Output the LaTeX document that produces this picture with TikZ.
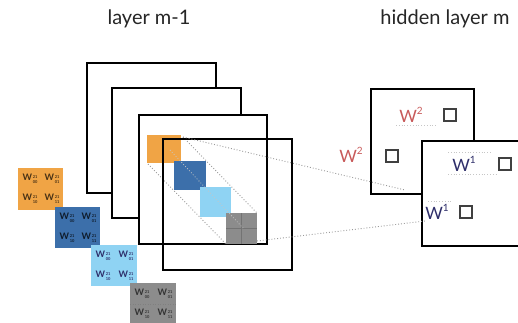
\documentclass[tikz,border=0pt]{standalone}
\usepackage{fontspec}
\setmainfont{Lato}
\newcommand\wlab[2]{W\kern0.8pt\raisebox{-3.4pt}{\fontsize{4}{7}\selectfont\shortstack[l]{#1\\#2}}}
\newcommand\wsup[1]{W\raisebox{0.85ex}{\fontsize{10}{10}\selectfont #1}}
\definecolor{corange}{HTML}{F0A445}
\definecolor{cdblue}{HTML}{3C6FAA}
\definecolor{clblue}{HTML}{8FD3F3}
\definecolor{cgray}{HTML}{8C8C8C}
\definecolor{cred}{HTML}{C85A5A}
\definecolor{cnavy}{HTML}{2E2E6A}
\tikzset{
  fmap/.style={draw=black, line width=2.7pt, fill=white},
  fmapopen/.style={draw=black, line width=2.7pt},
  conn/.style={draw=gray!80, dotted, line width=0.9pt},
  faint/.style={draw=gray!45, dotted, line width=0.8pt},
  title/.style={font=\fontsize{20}{20}\selectfont, text=black!85},
  wbig/.style={font=\fontsize{17}{17}\selectfont, inner sep=0pt},
  unit/.style={draw=black!75, line width=1.2pt, minimum size=12pt, inner sep=0pt},
  wsmall/.style={font=\fontsize{9}{9}\selectfont\bfseries, inner sep=0pt}
}
\begin{document}
\begin{tikzpicture}[x=1pt,y=-1pt]
\useasboundingbox (0,0) rectangle (518,323);
\clip (0,0) rectangle (518,323);
% titles
\node[title] (t1) at (149,19) {layer m-1};
\node[title] (t2) at (445,19) {hidden layer m};
% layer m-1 feature maps
\draw[fmap] (87,63) rectangle (216,193);
\draw[fmap] (112,88) rectangle (241,218);
\draw[fmap] (139,115) rectangle (267,244);
% receptive-field patches
\fill[corange] (147,135) rectangle (181,163);
\fill[cdblue] (174,161) rectangle (206,190);
\fill[clblue] (200,187) rectangle (231,217);
\fill[cgray] (226,213) rectangle (257,244);
\draw[black!55, line width=0.6pt] (241.5,213) -- (241.5,244) (226,228.5) -- (257,228.5);
\coordinate (p1) at (183,137);
\coordinate (p2) at (257,213);
\coordinate (p3) at (148,164);
\coordinate (p4) at (226,244);
\coordinate (p5) at (257,241);
\draw[conn] (p1) -- (p2);
\draw[conn] (p3) -- (p4);
\draw[faint] (170,150) -- (243,228);
\draw[fmapopen] (163,139) rectangle (292,270);
% hidden layer
\draw[fmap] (371,89) rectangle (474,194);
\draw[fmap] (422,141) rectangle (540,246);
\coordinate (h1) at (405,190);
\coordinate (h2) at (425,221);
\draw[conn] (p1) -- (h1);
\draw[conn] (p5) -- (h2);
\node[wbig, text=cred] (wa) at (411,115) {\wsup{2}};
\node[unit] (ua) at (450,115) {};
\node[wbig, text=cred] (wb) at (351,155) {\wsup{2}};
\node[unit] (ub) at (392,156) {};
\node[wbig, text=cnavy] (wc) at (464,164) {\wsup{1}};
\node[unit] (uc) at (505,164) {};
\node[wbig, text=cnavy] (wd) at (437,212) {\wsup{1}};
\node[unit] (ud) at (466,212) {};
\draw[faint] (396,125) -- (436,125);
\draw[faint] (448,152) -- (492,152) (448,174) -- (498,174);
\draw[faint] (428,201) -- (452,201);
% weight blocks
\fill[corange] (18,168) rectangle (63,210);
\node[wsmall, text=black!70!corange] at (30,179) {\wlab{21}{00}};
\node[wsmall, text=black!70!corange] at (52,179) {\wlab{21}{01}};
\node[wsmall, text=black!70!corange] at (30,199) {\wlab{21}{10}};
\node[wsmall, text=black!70!corange] at (52,199) {\wlab{21}{11}};
\fill[cdblue] (55,207) rectangle (100,248);
\node[wsmall, text=black!75!cdblue] at (67,218) {\wlab{21}{00}};
\node[wsmall, text=black!75!cdblue] at (89,218) {\wlab{21}{01}};
\node[wsmall, text=black!75!cdblue] at (67,238) {\wlab{21}{10}};
\node[wsmall, text=black!75!cdblue] at (89,238) {\wlab{21}{11}};
\fill[clblue] (91,245) rectangle (137,286);
\node[wsmall, text=cnavy] at (103,256) {\wlab{21}{00}};
\node[wsmall, text=cnavy] at (126,256) {\wlab{21}{01}};
\node[wsmall, text=cnavy] at (103,276) {\wlab{21}{10}};
\node[wsmall, text=cnavy] at (126,276) {\wlab{21}{11}};
\fill[cgray] (130,283) rectangle (176,330);
\draw[black!50, dotted, line width=0.5pt] (130,304) -- (176,304);
\node[wsmall, text=black!80] at (142,294) {\wlab{21}{00}};
\node[wsmall, text=black!80] at (165,294) {\wlab{21}{01}};
\node[wsmall, text=black!80] at (142,314) {\wlab{21}{10}};
\node[wsmall, text=black!80] at (165,314) {\wlab{21}{11}};
\end{tikzpicture}
\end{document}
